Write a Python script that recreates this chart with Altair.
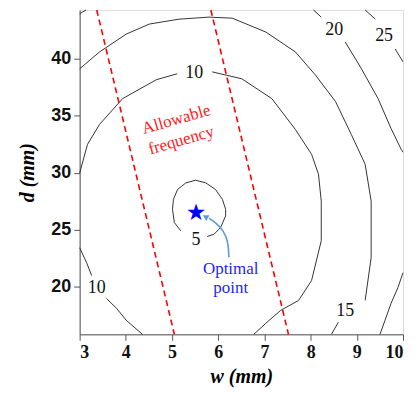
import altair as alt
import pandas as pd

# ---- contour polylines (w in mm, d in mm) ----
c5_w = [5.19, 5.05, 5.01, 5.03, 5.12, 5.30, 5.51, 5.73, 5.94, 6.09, 6.16, 6.16, 6.05, 5.91, 5.76]
c5_d = [24.89, 25.62, 26.79, 27.66, 28.53, 29.11, 29.34, 29.11, 28.53, 27.66, 26.79, 26.20, 25.18, 24.60, 24.39]

c10a_w = [3.00, 3.17, 3.43, 3.93, 4.66, 5.11]
c10a_d = [29.96, 32.49, 34.24, 36.51, 38.17, 38.69]
c10b_w = [5.87, 6.51, 7.16, 7.67, 8.02, 8.17, 8.23, 8.23, 8.02, 7.74, 7.35, 7.03, 6.77]
c10b_d = [38.86, 38.25, 36.51, 33.80, 31.62, 29.87, 27.51, 24.02, 20.52, 18.78, 17.90, 16.77, 15.80]
c10c_w = [3.00, 3.15, 3.26]
c10c_d = [23.41, 22.10, 20.96]
c10d_w = [3.58, 3.80, 4.01, 4.36]
c10d_d = [18.95, 18.08, 17.03, 15.80]

c15a_w = [3.00, 3.43, 4.01, 4.51, 5.15, 5.80, 6.30, 7.03, 7.67, 8.10, 8.54, 8.88, 9.18, 9.31, 9.31, 9.18]
c15a_d = [39.13, 40.61, 42.18, 43.06, 43.49, 43.67, 43.58, 42.36, 40.61, 38.60, 36.24, 33.36, 30.74, 27.51, 22.53, 18.78]
c15b_w = [8.60, 8.45]
c15b_d = [16.86, 15.80]

c20a_w = [8.06, 8.23]
c20a_d = [44.30, 43.67]
c20b_w = [8.75, 9.10, 9.46, 9.74, 9.96, 10.00]
c20b_d = [41.48, 39.13, 36.51, 33.89, 32.05, 31.80]
c20c_w = [10.00, 9.89, 9.74, 9.61, 9.50]
c20c_d = [21.22, 19.91, 18.52, 17.03, 15.80]
c20d_w = [3.00, 3.14]
c20d_d = [43.96, 44.30]

c25a_w = [9.18, 9.40]
c25a_d = [44.30, 43.49]
c25b_w = [9.83, 10.00]
c25b_d = [40.87, 39.74]

# contour labels
lab_text = ["5", "10", "10", "15", "20", "25"]
lab_w = [5.52, 5.48, 3.37, 8.75, 8.51, 9.59]
lab_d = [24.10, 38.77, 19.91, 17.82, 42.53, 42.01]

# allowable-frequency boundaries (red dashed)
rl1_w = [3.37, 5.05]
rl1_d = [44.30, 15.80]
rl2_w = [5.84, 7.52]
rl2_d = [44.30, 15.80]

# optimal point and its arrow
star_w = [5.52]
star_d = [26.48]
arrow_w = [6.23, 6.22, 6.12, 5.94, 5.80]
arrow_d = [22.56, 23.87, 24.89, 25.62, 26.00]
head_w = [5.74]
head_d = [26.10]

x_ticks = [3, 4, 5, 6, 7, 8, 9, 10]
y_ticks = [20, 25, 30, 35, 40]

# ---- build tables ----
segs = [
    ("c5", c5_w, c5_d), ("c10a", c10a_w, c10a_d), ("c10b", c10b_w, c10b_d),
    ("c10c", c10c_w, c10c_d), ("c10d", c10d_w, c10d_d),
    ("c15a", c15a_w, c15a_d), ("c15b", c15b_w, c15b_d),
    ("c20a", c20a_w, c20a_d), ("c20b", c20b_w, c20b_d), ("c20c", c20c_w, c20c_d),
    ("c20d", c20d_w, c20d_d), ("c25a", c25a_w, c25a_d), ("c25b", c25b_w, c25b_d),
]
rows = []
for name, ws, ds in segs:
    for i, (w, d) in enumerate(zip(ws, ds)):
        rows.append({"seg": name, "o": i, "w": w, "d": d})
cdf = pd.DataFrame(rows)

rrows = []
for name, ws, ds in [("r1", rl1_w, rl1_d), ("r2", rl2_w, rl2_d)]:
    for i, (w, d) in enumerate(zip(ws, ds)):
        rrows.append({"seg": name, "o": i, "w": w, "d": d})
rdf = pd.DataFrame(rrows)

labdf = pd.DataFrame({"w": lab_w, "d": lab_d, "t": lab_text})
stardf = pd.DataFrame({"w": star_w, "d": star_d, "t": ["\u2605"]})
arrdf = pd.DataFrame({"w": arrow_w, "d": arrow_d, "o": list(range(len(arrow_w)))})
headdf = pd.DataFrame({"w": head_w, "d": head_d})
reddf = pd.DataFrame({"w": [5.09, 5.20], "d": [34.67, 32.84], "t": ["Allowable", "frequency"]})
bluedf = pd.DataFrame({"w": [6.27, 6.27], "d": [21.57, 19.83], "t": ["Optimal", "point"]})

xs = alt.Scale(domain=[3, 10], nice=False, zero=False)
ys = alt.Scale(domain=[15.8, 44.3], nice=False, zero=False)

xaxis = alt.Axis(values=x_ticks, title="w (mm)", format="d", grid=False, orient="bottom",
                 tickSize=6, labelPadding=3, labelFont="Liberation Serif",
                 labelFontSize=18, labelFontWeight="bold", labelColor="#111111",
                 titleFont="Liberation Serif",
                 titleFontSize=20, titleFontWeight="bold", titleFontStyle="italic",
                 titleColor="black", titlePadding=5, domainColor="#555555",
                 tickColor="#555555")
yaxis = alt.Axis(values=y_ticks, title="d (mm)", format="d", grid=False, orient="left",
                 tickSize=6, labelPadding=3, labelFont="Liberation Sans",
                 labelFontSize=18, labelFontWeight="bold", labelColor="#111111",
                 titleFont="Liberation Serif",
                 titleFontSize=20, titleFontWeight="bold", titleFontStyle="italic",
                 titleColor="black", titlePadding=13, domainColor="#555555",
                 tickColor="#555555")

X = alt.X("w:Q", scale=xs, axis=xaxis)
Y = alt.Y("d:Q", scale=ys, axis=yaxis)

contours = alt.Chart(cdf).mark_line(color="#333333", strokeWidth=1).encode(
    x=X, y=Y, detail="seg:N", order="o:Q")

redlines = alt.Chart(rdf).mark_line(color="#ff0000", strokeWidth=1.6,
                                    strokeDash=[6, 4]).encode(
    x=X, y=Y, detail="seg:N", order="o:Q")

labels = alt.Chart(labdf).mark_text(font="Liberation Serif", fontSize=18,
                                    color="#111111").encode(x=X, y=Y, text="t:N")

red_text = alt.Chart(reddf).mark_text(font="Liberation Serif", fontSize=17,
                                      color="#ff2020", angle=344).encode(
    x=X, y=Y, text="t:N")
blue_text = alt.Chart(bluedf).mark_text(font="Liberation Serif", fontSize=17,
                                        color="#1f1fff").encode(
    x=X, y=Y, text="t:N")

arrow = alt.Chart(arrdf).mark_line(color="#5b9bd5", strokeWidth=1.6,
                                   interpolate="basis").encode(x=X, y=Y, order="o:Q")
head = alt.Chart(headdf).mark_point(shape="triangle", filled=True, color="#5b9bd5",
                                    size=45, angle=300, opacity=1).encode(x=X, y=Y)
star = alt.Chart(stardf).mark_text(font="DejaVu Sans", fontSize=23, color="#0000ff",
                                   baseline="middle").encode(x=X, y=Y, text="t:N")

chart = alt.layer(contours, redlines, labels, red_text, blue_text, arrow, head, star).properties(
    width=325, height=326,
    padding={"left": 72, "top": 1, "right": 6, "bottom": 57},
    autosize="none",
).configure_view(stroke="#555555", strokeWidth=1).configure(background="white")

chart.save("out.html", embed_options={"renderer": "svg", "actions": False})
